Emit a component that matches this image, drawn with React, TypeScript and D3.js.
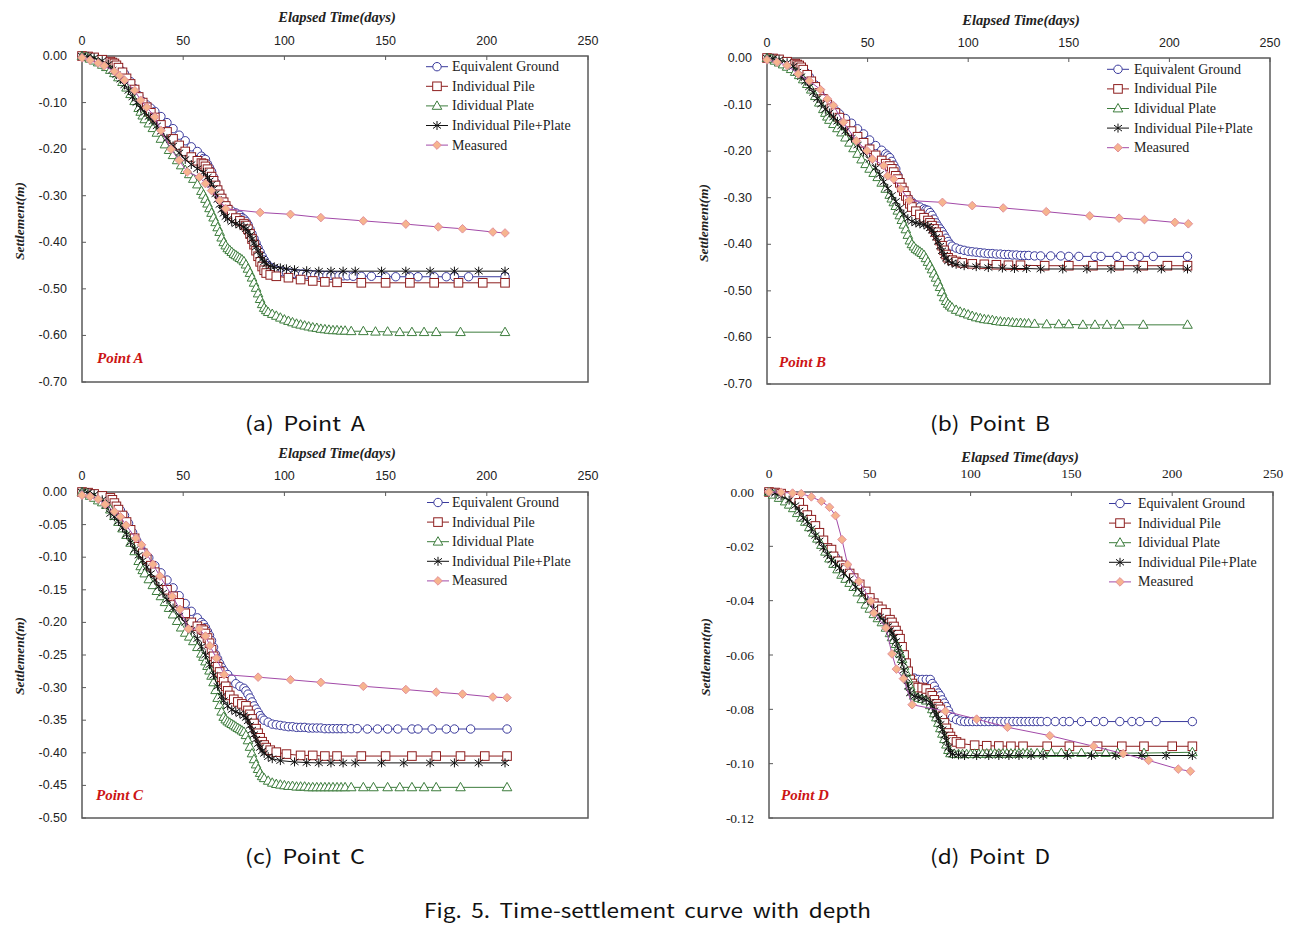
import React from "react";
import * as d3 from "d3";

type Pt = [number, number];

// ---------- shared labels ----------
const xTicks = [0, 50, 100, 150, 200, 250];
const yTicksAB = [0, -0.1, -0.2, -0.3, -0.4, -0.5, -0.6, -0.7];
const yTicksC = [0, -0.05, -0.1, -0.15, -0.2, -0.25, -0.3, -0.35, -0.4, -0.45, -0.5];
const yTicksD = [0, -0.02, -0.04, -0.06, -0.08, -0.1, -0.12];
const seriesNames = ["Equivalent Ground", "Individual Pile", "Idividual Plate", "Individual Pile+Plate", "Measured"];
const xTitle = "Elapsed Time(days)";
const yTitle = "Settlement(m)";
const captions = ["(a) Point A", "(b) Point B", "(c) Point C", "(d) Point D"];
const pointLabels = ["Point A", "Point B", "Point C", "Point D"];
const figCaption = "Fig. 5. Time-settlement curve with depth";

// ---------- Point A ----------
const eqGroundA: Pt[] = [[0,0],[3,-0.001],[6,-0.004],[10,-0.009],[13,-0.012],[16,-0.015],[19,-0.03],[21,-0.038],[24,-0.055],[26,-0.07],[28,-0.085],[30,-0.098],[32,-0.105],[34,-0.112],[36,-0.119],[39,-0.13],[42,-0.143],[45,-0.156],[48,-0.17],[51,-0.182],[54,-0.195],[57,-0.205],[59,-0.215],[60,-0.22],[61,-0.222],[62,-0.232],[63,-0.24],[64,-0.248],[65,-0.26],[66,-0.272],[67,-0.285],[68,-0.296],[69,-0.305],[70,-0.313],[71,-0.32],[72,-0.327],[74,-0.333],[76,-0.337],[78,-0.342],[79,-0.347],[80,-0.35],[81,-0.355],[82,-0.362],[83,-0.372],[84,-0.382],[85,-0.392],[86,-0.402],[87,-0.412],[88,-0.421],[89,-0.43],[90,-0.438],[91,-0.445],[92,-0.45],[93,-0.454],[95,-0.458],[97,-0.461],[99,-0.463],[101,-0.465],[103,-0.466],[105,-0.467],[107,-0.468],[109,-0.468],[111,-0.469],[113,-0.469],[115,-0.47],[117,-0.47],[119,-0.471],[121,-0.471],[123,-0.471],[125,-0.472],[127,-0.472],[129,-0.472],[131,-0.472],[134,-0.473],[138,-0.473],[143,-0.473],[150,-0.474],[155,-0.474],[162,-0.474],[166,-0.474],[174,-0.474],[180,-0.474],[184,-0.474],[191,-0.474],[209,-0.474]];
const pileA: Pt[] = [[0,0],[3,-0.001],[6,-0.003],[10,-0.008],[14,-0.012],[15,-0.014],[16,-0.016],[17,-0.02],[18,-0.025],[20,-0.035],[22,-0.048],[24,-0.06],[26,-0.072],[28,-0.088],[30,-0.1],[32,-0.11],[34,-0.122],[36,-0.132],[39,-0.148],[42,-0.163],[45,-0.178],[48,-0.192],[51,-0.205],[54,-0.217],[57,-0.225],[59,-0.23],[60,-0.232],[61,-0.237],[62,-0.243],[63,-0.25],[64,-0.259],[65,-0.268],[66,-0.278],[67,-0.288],[68,-0.297],[69,-0.306],[70,-0.314],[71,-0.322],[72,-0.33],[74,-0.34],[76,-0.348],[78,-0.354],[80,-0.36],[81,-0.364],[82,-0.372],[83,-0.382],[84,-0.393],[85,-0.405],[86,-0.418],[87,-0.43],[88,-0.442],[89,-0.452],[90,-0.46],[91,-0.466],[93,-0.47],[96,-0.473],[102,-0.476],[108,-0.48],[114,-0.483],[120,-0.485],[126,-0.486],[138,-0.487],[150,-0.487],[162,-0.487],[174,-0.487],[186,-0.487],[198,-0.487],[209,-0.487]];
const plateA: Pt[] = [[0,0],[2,-0.002],[4,-0.006],[6,-0.01],[8,-0.014],[10,-0.019],[12,-0.024],[14,-0.03],[16,-0.037],[18,-0.046],[20,-0.056],[22,-0.068],[24,-0.082],[26,-0.097],[28,-0.112],[29,-0.12],[30,-0.128],[31,-0.136],[33,-0.145],[35,-0.155],[37,-0.165],[39,-0.178],[41,-0.19],[43,-0.202],[45,-0.213],[47,-0.224],[49,-0.235],[51,-0.245],[53,-0.254],[55,-0.264],[57,-0.276],[59,-0.29],[60,-0.298],[61,-0.307],[62,-0.317],[63,-0.327],[64,-0.337],[65,-0.347],[66,-0.357],[67,-0.368],[68,-0.378],[69,-0.39],[70,-0.4],[71,-0.407],[72,-0.413],[73,-0.417],[74,-0.421],[75,-0.425],[76,-0.428],[77,-0.431],[78,-0.434],[79,-0.437],[80,-0.441],[81,-0.448],[82,-0.457],[83,-0.466],[84,-0.476],[85,-0.487],[86,-0.498],[87,-0.51],[88,-0.522],[89,-0.533],[90,-0.541],[91,-0.546],[92,-0.55],[94,-0.554],[96,-0.558],[98,-0.562],[100,-0.566],[102,-0.569],[104,-0.572],[106,-0.575],[108,-0.577],[110,-0.579],[112,-0.581],[114,-0.583],[116,-0.584],[118,-0.586],[120,-0.587],[122,-0.588],[124,-0.589],[126,-0.589],[128,-0.59],[130,-0.59],[133,-0.591],[139,-0.591],[145,-0.592],[151,-0.592],[157,-0.593],[163,-0.593],[169,-0.593],[175,-0.593],[187,-0.593],[209,-0.593]];
const pilePlateA: Pt[] = [[0,0],[3,-0.001],[6,-0.004],[10,-0.01],[13,-0.018],[15,-0.03],[17,-0.04],[19,-0.05],[21,-0.062],[23,-0.074],[25,-0.088],[27,-0.1],[29,-0.112],[31,-0.121],[33,-0.13],[35,-0.14],[37,-0.15],[39,-0.162],[42,-0.177],[45,-0.193],[48,-0.208],[51,-0.222],[54,-0.233],[57,-0.242],[60,-0.25],[62,-0.26],[63,-0.268],[64,-0.276],[65,-0.285],[66,-0.296],[67,-0.308],[68,-0.319],[69,-0.33],[70,-0.338],[71,-0.345],[72,-0.35],[74,-0.356],[76,-0.36],[78,-0.363],[80,-0.367],[81,-0.371],[82,-0.377],[83,-0.385],[84,-0.393],[85,-0.402],[86,-0.41],[87,-0.419],[88,-0.428],[89,-0.436],[90,-0.442],[91,-0.447],[93,-0.451],[95,-0.453],[98,-0.455],[101,-0.457],[105,-0.459],[111,-0.461],[117,-0.462],[123,-0.462],[129,-0.462],[135,-0.462],[148,-0.462],[160,-0.462],[172,-0.462],[184,-0.462],[196,-0.462],[209,-0.462]];
const measuredA: Pt[] = [[0,-0.004],[4,-0.009],[8,-0.015],[11,-0.021],[16,-0.033],[18.5,-0.042],[21,-0.052],[26,-0.074],[29,-0.095],[32,-0.11],[36,-0.131],[39,-0.16],[44,-0.2],[48,-0.224],[52,-0.249],[58,-0.26],[61,-0.274],[64,-0.289],[68,-0.31],[71,-0.328],[88,-0.336],[103,-0.34],[118,-0.347],[139,-0.354],[160,-0.361],[176,-0.367],[188,-0.371],[203,-0.378],[209,-0.38]];

// ---------- Point B ----------
const eqGroundB: Pt[] = [[0,0],[3,-0.001],[6,-0.003],[10,-0.008],[13,-0.012],[16,-0.016],[19,-0.03],[21,-0.04],[24,-0.058],[26,-0.072],[28,-0.086],[30,-0.098],[32,-0.106],[34,-0.113],[36,-0.12],[39,-0.13],[42,-0.14],[45,-0.152],[48,-0.163],[51,-0.176],[54,-0.188],[57,-0.198],[59,-0.206],[60,-0.21],[61,-0.214],[62,-0.222],[63,-0.23],[64,-0.238],[65,-0.252],[66,-0.264],[67,-0.277],[68,-0.286],[69,-0.294],[70,-0.3],[72,-0.309],[74,-0.316],[76,-0.32],[78,-0.324],[79,-0.326],[80,-0.327],[81,-0.332],[82,-0.338],[83,-0.346],[84,-0.354],[85,-0.361],[86,-0.367],[87,-0.373],[88,-0.38],[89,-0.387],[90,-0.394],[91,-0.4],[92,-0.404],[94,-0.408],[96,-0.411],[98,-0.413],[100,-0.415],[102,-0.416],[104,-0.417],[106,-0.418],[108,-0.419],[110,-0.42],[112,-0.42],[114,-0.421],[116,-0.421],[118,-0.422],[120,-0.422],[122,-0.423],[124,-0.423],[126,-0.424],[128,-0.424],[130,-0.424],[133,-0.425],[136,-0.425],[141,-0.425],[146,-0.425],[150,-0.426],[155,-0.426],[163,-0.426],[166,-0.426],[174,-0.426],[181,-0.426],[185,-0.426],[192,-0.426],[209,-0.426]];
const pileB: Pt[] = [[0,0],[3,-0.001],[6,-0.003],[10,-0.008],[14,-0.012],[15,-0.014],[16,-0.016],[17,-0.02],[18,-0.025],[20,-0.036],[22,-0.05],[24,-0.062],[26,-0.075],[28,-0.088],[30,-0.1],[32,-0.108],[34,-0.118],[36,-0.128],[39,-0.143],[42,-0.157],[45,-0.169],[48,-0.182],[51,-0.196],[54,-0.209],[57,-0.22],[59,-0.227],[61,-0.232],[62,-0.238],[63,-0.245],[64,-0.253],[65,-0.26],[66,-0.268],[67,-0.278],[68,-0.286],[69,-0.296],[70,-0.305],[71,-0.313],[72,-0.32],[74,-0.329],[76,-0.336],[78,-0.343],[80,-0.349],[81,-0.354],[82,-0.36],[83,-0.367],[84,-0.374],[85,-0.382],[86,-0.392],[87,-0.403],[88,-0.413],[89,-0.422],[90,-0.429],[92,-0.434],[94,-0.437],[97,-0.44],[102,-0.442],[108,-0.443],[114,-0.444],[120,-0.445],[126,-0.445],[138,-0.446],[150,-0.446],[162,-0.446],[175,-0.446],[187,-0.446],[199,-0.446],[209,-0.446]];
const plateB: Pt[] = [[0,0],[2,-0.002],[4,-0.006],[6,-0.01],[8,-0.014],[10,-0.019],[12,-0.024],[14,-0.03],[16,-0.037],[18,-0.046],[20,-0.056],[22,-0.068],[24,-0.082],[26,-0.096],[28,-0.11],[29,-0.118],[30,-0.126],[31,-0.133],[33,-0.142],[35,-0.151],[37,-0.16],[39,-0.171],[41,-0.182],[43,-0.194],[45,-0.206],[47,-0.218],[49,-0.228],[51,-0.238],[53,-0.247],[55,-0.256],[57,-0.268],[59,-0.281],[61,-0.294],[62,-0.302],[63,-0.31],[64,-0.318],[65,-0.328],[66,-0.338],[67,-0.348],[68,-0.358],[69,-0.368],[70,-0.38],[71,-0.392],[72,-0.4],[73,-0.405],[74,-0.41],[75,-0.413],[76,-0.416],[77,-0.419],[78,-0.423],[79,-0.43],[80,-0.438],[81,-0.446],[82,-0.454],[83,-0.463],[84,-0.472],[85,-0.482],[86,-0.492],[87,-0.503],[88,-0.514],[89,-0.522],[90,-0.528],[91,-0.532],[92,-0.536],[94,-0.541],[96,-0.545],[98,-0.548],[100,-0.551],[102,-0.554],[104,-0.557],[106,-0.559],[108,-0.561],[110,-0.562],[112,-0.563],[114,-0.565],[116,-0.566],[118,-0.567],[120,-0.567],[122,-0.568],[124,-0.569],[126,-0.569],[128,-0.57],[130,-0.57],[133,-0.571],[139,-0.572],[145,-0.572],[150,-0.572],[157,-0.573],[163,-0.573],[169,-0.573],[175,-0.573],[187,-0.573],[209,-0.573]];
const pilePlateB: Pt[] = [[0,0],[3,-0.001],[6,-0.004],[10,-0.01],[13,-0.018],[15,-0.03],[17,-0.04],[19,-0.05],[21,-0.062],[23,-0.074],[25,-0.087],[27,-0.099],[29,-0.11],[31,-0.118],[33,-0.127],[35,-0.136],[37,-0.146],[39,-0.157],[42,-0.172],[45,-0.187],[48,-0.202],[51,-0.218],[54,-0.236],[56,-0.25],[58,-0.266],[60,-0.28],[62,-0.295],[64,-0.308],[66,-0.322],[68,-0.335],[70,-0.345],[72,-0.351],[74,-0.354],[76,-0.356],[78,-0.358],[80,-0.361],[81,-0.365],[82,-0.37],[83,-0.377],[84,-0.385],[85,-0.394],[86,-0.404],[87,-0.414],[88,-0.423],[89,-0.43],[90,-0.436],[92,-0.44],[94,-0.443],[98,-0.446],[104,-0.448],[110,-0.45],[117,-0.451],[123,-0.452],[129,-0.452],[136,-0.453],[147,-0.453],[159,-0.453],[171,-0.453],[184,-0.453],[196,-0.453],[209,-0.453]];
const measuredB: Pt[] = [[0,-0.004],[5,-0.009],[10,-0.016],[15.5,-0.034],[21,-0.049],[26.6,-0.068],[30,-0.088],[33,-0.102],[38,-0.138],[44.4,-0.178],[49.7,-0.199],[52.4,-0.217],[58,-0.231],[60,-0.253],[63,-0.26],[66.5,-0.281],[70.7,-0.306],[87.2,-0.31],[102,-0.317],[117.4,-0.322],[138.8,-0.33],[160.4,-0.339],[175,-0.344],[187.6,-0.347],[202.7,-0.353],[209.4,-0.356]];

// ---------- Point C ----------
const eqGroundC: Pt[] = [[0,0],[3,-0.001],[6,-0.003],[10,-0.007],[13,-0.01],[15,-0.012],[17,-0.02],[19,-0.028],[21,-0.036],[23,-0.048],[25,-0.062],[27,-0.074],[29,-0.086],[31,-0.094],[33,-0.101],[36,-0.113],[39,-0.124],[42,-0.135],[45,-0.147],[48,-0.159],[51,-0.171],[54,-0.183],[57,-0.193],[59,-0.2],[60,-0.203],[61,-0.208],[62,-0.214],[63,-0.22],[64,-0.228],[65,-0.238],[66,-0.249],[67,-0.256],[68,-0.263],[69,-0.269],[70,-0.274],[72,-0.28],[74,-0.287],[76,-0.294],[78,-0.298],[80,-0.301],[81,-0.305],[82,-0.31],[83,-0.316],[84,-0.322],[85,-0.328],[86,-0.333],[87,-0.338],[88,-0.343],[89,-0.347],[90,-0.35],[92,-0.353],[94,-0.356],[96,-0.357],[98,-0.358],[100,-0.359],[102,-0.36],[104,-0.36],[106,-0.361],[108,-0.361],[110,-0.361],[112,-0.362],[114,-0.362],[116,-0.362],[118,-0.362],[120,-0.363],[122,-0.363],[124,-0.363],[126,-0.363],[128,-0.363],[130,-0.363],[133,-0.363],[136,-0.363],[141,-0.3635],[146,-0.3635],[151,-0.3635],[156,-0.3635],[163,-0.3635],[166,-0.3635],[173,-0.3635],[180,-0.3635],[184,-0.3635],[192,-0.3635],[210,-0.3635]];
const pileC: Pt[] = [[0,0],[3,-0.001],[6,-0.003],[10,-0.006],[14,-0.009],[15,-0.012],[16,-0.017],[17,-0.022],[18,-0.027],[20,-0.036],[22,-0.046],[24,-0.058],[26,-0.071],[28,-0.084],[30,-0.094],[32,-0.103],[34,-0.113],[36,-0.123],[39,-0.137],[42,-0.15],[45,-0.16],[48,-0.17],[51,-0.186],[54,-0.2],[57,-0.206],[59,-0.21],[60,-0.212],[61,-0.217],[62,-0.224],[63,-0.232],[64,-0.242],[65,-0.252],[66,-0.26],[67,-0.268],[68,-0.276],[69,-0.284],[70,-0.291],[71,-0.298],[72,-0.305],[73,-0.312],[75,-0.318],[77,-0.322],[79,-0.325],[81,-0.328],[82,-0.335],[83,-0.341],[84,-0.348],[85,-0.355],[86,-0.363],[87,-0.37],[88,-0.377],[89,-0.383],[90,-0.388],[91,-0.392],[93,-0.396],[96,-0.399],[101,-0.402],[108,-0.404],[114,-0.404],[120,-0.405],[126,-0.405],[138,-0.405],[150,-0.405],[163,-0.405],[175,-0.405],[187,-0.405],[199,-0.405],[210,-0.405]];
const plateC: Pt[] = [[0,0],[2,-0.002],[4,-0.006],[6,-0.009],[8,-0.013],[10,-0.016],[12,-0.02],[14,-0.027],[16,-0.037],[18,-0.046],[20,-0.056],[22,-0.066],[24,-0.078],[26,-0.091],[28,-0.106],[29,-0.114],[30,-0.12],[31,-0.125],[33,-0.134],[35,-0.143],[37,-0.152],[39,-0.16],[41,-0.169],[43,-0.178],[45,-0.188],[47,-0.198],[49,-0.208],[51,-0.216],[53,-0.222],[55,-0.229],[57,-0.238],[59,-0.248],[60,-0.253],[61,-0.26],[62,-0.267],[63,-0.274],[64,-0.282],[65,-0.292],[66,-0.304],[67,-0.316],[68,-0.327],[69,-0.337],[70,-0.345],[71,-0.349],[72,-0.352],[73,-0.354],[74,-0.356],[75,-0.358],[76,-0.36],[77,-0.362],[78,-0.364],[79,-0.366],[80,-0.368],[81,-0.373],[82,-0.381],[83,-0.391],[84,-0.401],[85,-0.41],[86,-0.418],[87,-0.425],[88,-0.431],[89,-0.436],[90,-0.439],[92,-0.443],[94,-0.446],[96,-0.448],[98,-0.449],[100,-0.45],[102,-0.451],[104,-0.451],[106,-0.452],[108,-0.452],[110,-0.452],[112,-0.453],[114,-0.453],[116,-0.453],[118,-0.453],[120,-0.453],[122,-0.453],[124,-0.453],[126,-0.453],[128,-0.453],[130,-0.453],[133,-0.453],[139,-0.453],[144,-0.453],[151,-0.453],[157,-0.453],[163,-0.453],[169,-0.453],[175,-0.453],[187,-0.453],[210,-0.453]];
const pilePlateC: Pt[] = [[0,0],[3,-0.001],[6,-0.004],[10,-0.012],[12,-0.02],[14,-0.033],[16,-0.038],[18,-0.045],[20,-0.055],[22,-0.065],[24,-0.077],[26,-0.088],[28,-0.097],[30,-0.105],[32,-0.115],[34,-0.125],[36,-0.135],[38,-0.145],[40,-0.155],[42,-0.165],[45,-0.178],[48,-0.19],[51,-0.2],[54,-0.212],[57,-0.225],[59,-0.237],[61,-0.25],[63,-0.265],[65,-0.281],[67,-0.298],[69,-0.313],[70,-0.32],[72,-0.328],[74,-0.334],[76,-0.337],[78,-0.34],[80,-0.343],[81,-0.346],[82,-0.351],[83,-0.358],[84,-0.365],[85,-0.372],[86,-0.379],[87,-0.386],[88,-0.392],[89,-0.397],[90,-0.401],[92,-0.406],[94,-0.409],[98,-0.412],[105,-0.414],[111,-0.415],[117,-0.4155],[123,-0.4155],[129,-0.4155],[135,-0.4155],[148,-0.4155],[159,-0.4155],[172,-0.4155],[184,-0.4155],[196,-0.4155],[209,-0.4155]];
const measuredC: Pt[] = [[0,-0.005],[4,-0.007],[8,-0.011],[11.4,-0.019],[16,-0.03],[19,-0.038],[21.8,-0.051],[26.6,-0.071],[29.4,-0.081],[32,-0.095],[35,-0.111],[38.5,-0.129],[44.6,-0.16],[48.4,-0.18],[52.6,-0.21],[57.9,-0.21],[61,-0.221],[63.2,-0.236],[66.4,-0.255],[70.2,-0.28],[87,-0.284],[103,-0.288],[118,-0.292],[139,-0.298],[160,-0.303],[175,-0.307],[188,-0.31],[203,-0.3145],[210,-0.3155]];

// ---------- Point D ----------
const eqGroundD: Pt[] = [[0,0],[3,-0.0002],[6,-0.0006],[10,-0.0015],[13,-0.0025],[15,-0.004],[17,-0.0065],[19,-0.0085],[21,-0.0105],[23,-0.013],[25,-0.0155],[27,-0.018],[29,-0.0205],[31,-0.022],[33,-0.024],[35,-0.026],[38,-0.0285],[41,-0.031],[44,-0.0335],[47,-0.0365],[50,-0.039],[53,-0.0415],[56,-0.0435],[58,-0.0455],[60,-0.047],[61,-0.0485],[62,-0.05],[63,-0.0515],[64,-0.0535],[65,-0.0555],[66,-0.058],[67,-0.061],[68,-0.0635],[69,-0.066],[70,-0.068],[72,-0.0685],[74,-0.069],[76,-0.069],[78,-0.069],[80,-0.069],[81,-0.0705],[82,-0.0715],[83,-0.073],[84,-0.074],[85,-0.075],[86,-0.0765],[87,-0.0777],[88,-0.079],[89,-0.0805],[90,-0.082],[91,-0.083],[93,-0.0838],[95,-0.0843],[97,-0.0845],[99,-0.0845],[101,-0.0845],[103,-0.0845],[105,-0.0845],[107,-0.0845],[109,-0.0845],[111,-0.0845],[113,-0.0845],[115,-0.0845],[117,-0.0845],[119,-0.0845],[121,-0.0845],[123,-0.0845],[125,-0.0845],[127,-0.0845],[129,-0.0845],[131,-0.0845],[133,-0.0845],[135,-0.0845],[138,-0.0845],[142,-0.0845],[146,-0.0845],[149,-0.0845],[155,-0.0845],[162,-0.0845],[166,-0.0845],[174,-0.0845],[180,-0.0845],[184,-0.0845],[192,-0.0845],[210,-0.0845]];
const pileD: Pt[] = [[0,0],[3,-0.0002],[6,-0.0006],[10,-0.0015],[13,-0.0025],[15,-0.004],[17,-0.0065],[19,-0.0085],[21,-0.0102],[23,-0.0125],[25,-0.015],[27,-0.0178],[29,-0.0206],[31,-0.0212],[32,-0.0237],[34,-0.0255],[36,-0.027],[38,-0.028],[40,-0.03],[42,-0.0317],[45,-0.034],[48,-0.0366],[50,-0.039],[52,-0.0409],[54,-0.0421],[56,-0.0432],[58,-0.0445],[60,-0.047],[61,-0.048],[62,-0.0495],[63,-0.051],[64,-0.0525],[65,-0.054],[66,-0.057],[67,-0.06],[68,-0.063],[69,-0.066],[70,-0.069],[71,-0.0705],[72,-0.0715],[74,-0.072],[76,-0.072],[78,-0.0725],[80,-0.074],[81,-0.075],[82,-0.0765],[83,-0.078],[84,-0.079],[85,-0.08],[86,-0.0825],[87,-0.085],[88,-0.087],[89,-0.0887],[90,-0.09],[91,-0.0912],[93,-0.092],[95,-0.0926],[102,-0.0932],[108,-0.0934],[114,-0.0935],[120,-0.0936],[126,-0.0936],[138,-0.0936],[149,-0.0936],[163,-0.0936],[175,-0.0936],[186,-0.0936],[200,-0.0936],[210,-0.0936]];
const plateD: Pt[] = [[0,0],[2,-0.001],[5,-0.0022],[8,-0.0035],[10,-0.0047],[12,-0.006],[14,-0.0078],[16,-0.0095],[18,-0.011],[20,-0.013],[22,-0.015],[24,-0.0172],[26,-0.0195],[28,-0.022],[30,-0.0245],[32,-0.0265],[34,-0.0285],[36,-0.0305],[38,-0.032],[40,-0.0335],[42,-0.035],[44,-0.037],[46,-0.0395],[48,-0.0415],[50,-0.043],[52,-0.045],[54,-0.0465],[56,-0.048],[58,-0.05],[60,-0.052],[61,-0.0535],[62,-0.0545],[63,-0.056],[64,-0.0575],[65,-0.0595],[66,-0.0615],[67,-0.064],[68,-0.0665],[69,-0.069],[70,-0.0715],[71,-0.0735],[72,-0.075],[74,-0.0758],[76,-0.0762],[78,-0.0768],[80,-0.0785],[81,-0.08],[82,-0.0815],[83,-0.083],[84,-0.085],[85,-0.087],[86,-0.089],[87,-0.091],[88,-0.093],[89,-0.095],[90,-0.0962],[92,-0.0965],[94,-0.0965],[96,-0.0965],[98,-0.0965],[100,-0.0965],[102,-0.0964],[104,-0.0964],[106,-0.0964],[108,-0.0963],[110,-0.0963],[112,-0.0963],[114,-0.0963],[116,-0.0963],[118,-0.0963],[120,-0.0963],[122,-0.0963],[124,-0.0962],[126,-0.0962],[128,-0.0962],[130,-0.0962],[133,-0.0962],[136,-0.0962],[140,-0.0961],[145,-0.0961],[149,-0.0961],[155,-0.0961],[161,-0.0961],[167,-0.0961],[173,-0.0961],[186,-0.0961],[210,-0.0958]];
const pilePlateD: Pt[] = [[0,0],[3,-0.0005],[6,-0.0015],[10,-0.003],[13,-0.005],[15,-0.007],[17,-0.0095],[19,-0.011],[21,-0.0135],[23,-0.016],[25,-0.018],[27,-0.0205],[29,-0.023],[31,-0.025],[33,-0.0265],[35,-0.028],[37,-0.03],[40,-0.032],[43,-0.035],[46,-0.037],[49,-0.04],[52,-0.043],[55,-0.046],[57,-0.0475],[59,-0.0495],[60,-0.051],[61,-0.052],[62,-0.0535],[63,-0.055],[64,-0.0575],[65,-0.06],[66,-0.0625],[67,-0.0655],[68,-0.0685],[69,-0.0715],[70,-0.074],[72,-0.0752],[74,-0.0755],[76,-0.076],[78,-0.0765],[80,-0.0775],[81,-0.079],[82,-0.0805],[83,-0.082],[84,-0.0835],[85,-0.0855],[86,-0.0875],[87,-0.0895],[88,-0.0915],[89,-0.094],[90,-0.0958],[91,-0.0965],[94,-0.0968],[97,-0.097],[103,-0.097],[109,-0.097],[114,-0.097],[119,-0.097],[124,-0.097],[130,-0.097],[136,-0.097],[148,-0.097],[160,-0.097],[172,-0.097],[185,-0.097],[197,-0.097],[210,-0.097]];
const measuredD: Pt[] = [[0,0],[6,-0.0001],[11.7,-0.0004],[16,-0.0006],[21,-0.0018],[26,-0.0034],[30,-0.0056],[33,-0.0087],[36.2,-0.0175],[39,-0.0267],[44.7,-0.0329],[50.6,-0.0402],[52,-0.0445],[58,-0.05],[61,-0.0596],[63.2,-0.0652],[66.7,-0.0687],[71,-0.0783],[87.5,-0.0807],[103,-0.0836],[118.3,-0.0866],[139.3,-0.0897],[161,-0.0936],[175.7,-0.0963],[188.3,-0.0988],[203,-0.102],[209,-0.1028]];

// ---------- styling ----------
type Kind = "circle" | "square" | "triangle" | "star" | "diamond";
const kinds: Kind[] = ["circle", "square", "triangle", "star", "diamond"];
const lineColors = ["#3a3a9c", "#8e1e1e", "#3d7d3d", "#111111", "#a24aa8"];

function Marker({ kind, x, y }: { kind: Kind; x: number; y: number }) {
  switch (kind) {
    case "circle":
      return <circle cx={x} cy={y} r={4.2} fill="#fff" stroke="#3a3a9c" strokeWidth={1} />;
    case "square":
      return <rect x={x - 4.3} y={y - 4.3} width={8.6} height={8.6} fill="#fff" stroke="#8e1e1e" strokeWidth={1} />;
    case "triangle":
      return <path d={`M${x},${y - 5}L${x + 4.8},${y + 3.4}L${x - 4.8},${y + 3.4}Z`} fill="#fff" stroke="#3d7d3d" strokeWidth={1} />;
    case "star":
      return <path d={`M${x},${y - 4.5}V${y + 4.5}M${x - 4},${y - 3}L${x + 4},${y + 3}M${x - 4},${y + 3}L${x + 4},${y - 3}`} stroke="#111" strokeWidth={1} fill="none" />;
    case "diamond":
      return <path d={`M${x},${y - 4.3}L${x + 4.3},${y}L${x},${y + 4.3}L${x - 4.3},${y}Z`} fill="#f6b48e" stroke="#e3909c" strokeWidth={1} />;
  }
  return null;
}

interface PanelCfg {
  x0: number; x1: number; y0: number; y1: number;
  yMin: number; yTicks: number[]; yFont: string; yFontSize: number;
  titleX: number; titleY: number; xLabelY: number;
  yTitleX: number; yTitleY: number;
  legX: number; legTextX: number; legY: number; legDy: number;
  ptX: number; ptY: number;
  capX: number; capY: number;
}

const layouts: PanelCfg[] = [
  { x0: 82, x1: 588, y0: 56, y1: 382, yMin: -0.7, yTicks: yTicksAB, yFont: "Liberation Sans, Arial, sans-serif", yFontSize: 12.5, titleX: 337, titleY: 17, xLabelY: 41, yTitleX: 19, yTitleY: 221, legX: 426, legTextX: 452, legY: 66.7, legDy: 19.6, ptX: 97, ptY: 358, capX: 305, capY: 422 },
  { x0: 767, x1: 1270, y0: 58, y1: 384, yMin: -0.7, yTicks: yTicksAB, yFont: "Liberation Sans, Arial, sans-serif", yFontSize: 12.5, titleX: 1021, titleY: 20, xLabelY: 43, yTitleX: 703, yTitleY: 223, legX: 1107, legTextX: 1134, legY: 69.3, legDy: 19.6, ptX: 779, ptY: 362, capX: 990, capY: 422 },
  { x0: 82, x1: 588, y0: 492, y1: 818, yMin: -0.5, yTicks: yTicksC, yFont: "Liberation Sans, Arial, sans-serif", yFontSize: 12.5, titleX: 337, titleY: 453, xLabelY: 476, yTitleX: 19, yTitleY: 656, legX: 427, legTextX: 452, legY: 502.5, legDy: 19.6, ptX: 96, ptY: 795, capX: 305, capY: 855 },
  { x0: 769, x1: 1273, y0: 492, y1: 818, yMin: -0.12, yTicks: yTicksD, yFont: "Liberation Serif, Times New Roman, serif", yFontSize: 13.5, titleX: 1020, titleY: 456.5, xLabelY: 473, yTitleX: 705, yTitleY: 657, legX: 1109, legTextX: 1138, legY: 503.5, legDy: 19.6, ptX: 781, ptY: 795, capX: 990, capY: 855 },
];

const panelData: Pt[][][] = [
  [eqGroundA, pileA, plateA, pilePlateA, measuredA],
  [eqGroundB, pileB, plateB, pilePlateB, measuredB],
  [eqGroundC, pileC, plateC, pilePlateC, measuredC],
  [eqGroundD, pileD, plateD, pilePlateD, measuredD],
];

const serif = "Liberation Serif, Times New Roman, serif";
const capFont = "Noto Sans CJK KR, Noto Sans, sans-serif";
const fmt = (v: number) => d3.format(".2f")(v).replace("\u2212", "-");

function Panel({ cfg, data, idx }: { cfg: PanelCfg; data: Pt[][]; idx: number }) {
  const x = d3.scaleLinear().domain([0, 250]).range([cfg.x0, cfg.x1]);
  const y = d3.scaleLinear().domain([cfg.yMin, 0]).range([cfg.y1, cfg.y0]);
  const line = d3.line<Pt>().x((d) => x(d[0])).y((d) => y(d[1]));
  return (
    <g>
      <rect x={cfg.x0} y={cfg.y0} width={cfg.x1 - cfg.x0} height={cfg.y1 - cfg.y0} fill="#fff" stroke="#5a5a5a" strokeWidth={1.5} />
      {xTicks.map((t) => (
        <g key={"xt" + t}>
          <line x1={x(t)} x2={x(t)} y1={cfg.y0} y2={cfg.y0 + 4} stroke="#5a5a5a" strokeWidth={1} />
          <text x={x(t)} y={cfg.xLabelY} textAnchor="middle" dominantBaseline="central" fontFamily={cfg.yFont} fontSize={cfg.yFontSize} fill="#222">{t}</text>
        </g>
      ))}
      {cfg.yTicks.map((v) => (
        <g key={"yt" + v}>
          <line x1={cfg.x0} x2={cfg.x0 + 4} y1={y(v)} y2={y(v)} stroke="#5a5a5a" strokeWidth={1} />
          <text x={cfg.x0 - 15} y={y(v)} textAnchor="end" dominantBaseline="central" fontFamily={cfg.yFont} fontSize={cfg.yFontSize} fill="#222">{fmt(v)}</text>
        </g>
      ))}
      <text x={cfg.titleX} y={cfg.titleY} textAnchor="middle" dominantBaseline="central" fontFamily={serif} fontWeight="bold" fontStyle="italic" fontSize={14.5} fill="#222">{xTitle}</text>
      <text transform={`translate(${cfg.yTitleX},${cfg.yTitleY}) rotate(-90)`} textAnchor="middle" dominantBaseline="central" fontFamily={serif} fontWeight="bold" fontStyle="italic" fontSize={13.5} fill="#222">{yTitle}</text>
      {data.map((s, i) => (
        <g key={"s" + i}>
          <path d={line(s) || ""} fill="none" stroke={lineColors[i]} strokeWidth={1} />
          {s.map((p, j) => (
            <Marker key={j} kind={kinds[i]} x={x(p[0])} y={y(p[1])} />
          ))}
        </g>
      ))}
      {seriesNames.map((n, i) => {
        const ly = cfg.legY + i * cfg.legDy;
        return (
          <g key={"lg" + i}>
            <line x1={cfg.legX} x2={cfg.legX + 22} y1={ly} y2={ly} stroke={lineColors[i]} strokeWidth={1} />
            <Marker kind={kinds[i]} x={cfg.legX + 11} y={ly} />
            <text x={cfg.legTextX} y={ly} dominantBaseline="central" fontFamily={serif} fontSize={14} fill="#222">{n}</text>
          </g>
        );
      })}
      <text x={cfg.ptX} y={cfg.ptY} dominantBaseline="central" fontFamily={serif} fontWeight="bold" fontStyle="italic" fontSize={15} fill="#cc1414">{pointLabels[idx]}</text>
      <text x={cfg.capX} y={cfg.capY} textAnchor="middle" dominantBaseline="central" fontFamily={capFont} fontSize={20} fill="#111" wordSpacing={4} textLength={120} lengthAdjust="spacingAndGlyphs">{captions[idx]}</text>
    </g>
  );
}

export default function App() {
  return (
    <svg width={1304} height={925} style={{ position: "absolute", left: 0, top: 0, background: "#fff" }}>
      <rect x={0} y={0} width={1304} height={925} fill="#fff" />
      {layouts.map((cfg, i) => (
        <Panel key={i} cfg={cfg} data={panelData[i]} idx={i} />
      ))}
      <text x={647.5} y={909} textAnchor="middle" dominantBaseline="central" fontFamily={capFont} fontSize={20} fill="#111" wordSpacing={4} textLength={447} lengthAdjust="spacingAndGlyphs">{figCaption}</text>
    </svg>
  );
}
